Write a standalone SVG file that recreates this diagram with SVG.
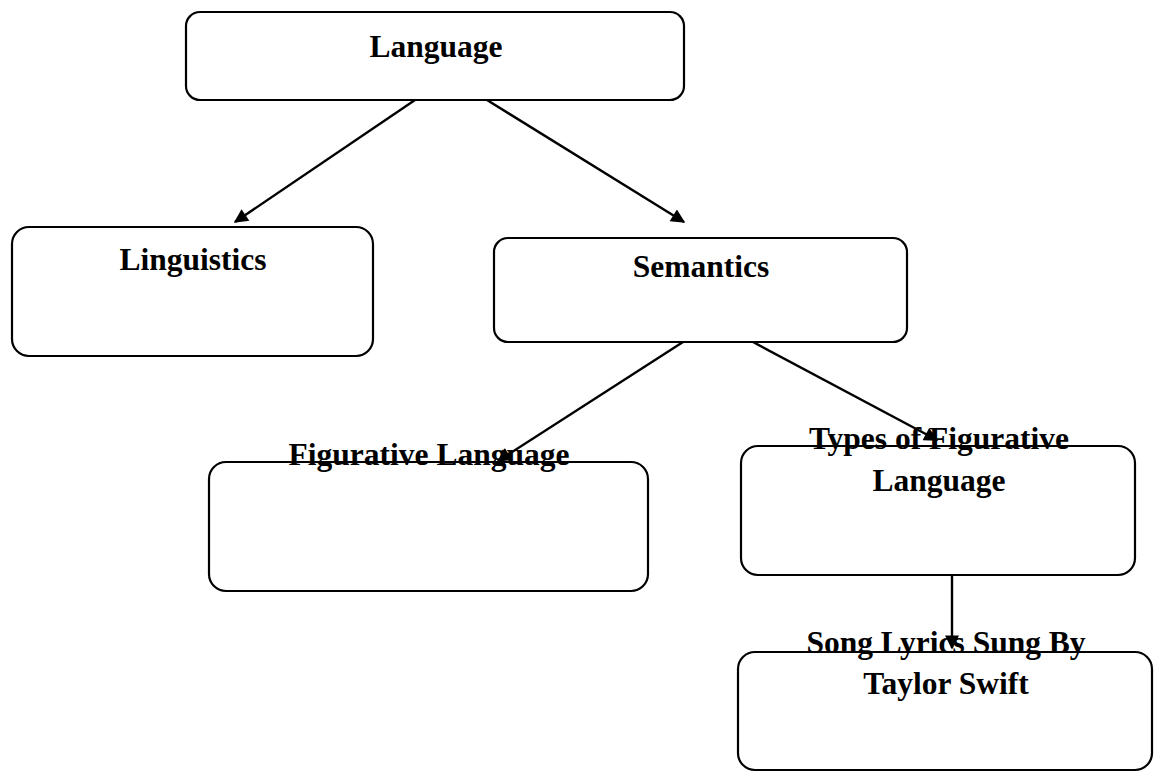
<svg xmlns="http://www.w3.org/2000/svg" width="1157" height="773" viewBox="0 0 1157 773">
<style>
.box{fill:#fff;stroke:#000;stroke-width:2.2}
.t{font-family:"Liberation Serif","Times New Roman",serif;font-weight:bold;font-size:31.5px;fill:#000;text-anchor:middle}
.c{stroke:#000;stroke-width:2.4;fill:none;marker-end:url(#ah)}
</style>
<defs>
<marker id="ah" viewBox="0 0 10 10" refX="9" refY="5" markerWidth="18" markerHeight="14" markerUnits="userSpaceOnUse" orient="auto">
<path d="M0,0 L10,5 L0,10 z" fill="#000"/>
</marker>
</defs>
<rect width="1157" height="773" fill="#fff"/>
<g id="n-language"><rect class="box" x="186" y="12" width="498" height="88" rx="14"/><text class="t" x="436" y="57">Language</text></g>
<g id="n-linguistics"><rect class="box" x="12" y="227" width="361" height="129" rx="17"/><text class="t" x="193" y="270">Linguistics</text></g>
<g id="n-semantics"><rect class="box" x="494" y="238" width="413" height="104" rx="14"/><text class="t" x="701" y="277">Semantics</text></g>
<g id="n-figurative"><rect class="box" x="209" y="462" width="439" height="129" rx="17"/></g>
<g id="n-types"><rect class="box" x="741" y="446" width="394" height="129" rx="17"/></g>
<g id="n-song"><rect class="box" x="738" y="652" width="414" height="118" rx="17"/></g>
<g id="connectors">
<line class="c" x1="415" y1="100" x2="235" y2="222"/>
<line class="c" x1="487" y1="100" x2="684" y2="222"/>
<line class="c" x1="683" y1="342" x2="498" y2="461"/>
<line class="c" x1="753" y1="342" x2="937" y2="440"/>
<line class="c" x1="952" y1="575" x2="952" y2="648"/>
</g>
<g id="labels">
<text class="t" x="429" y="465">Figurative Language</text>
<text class="t" x="939" y="449">Types of Figurative</text>
<text class="t" x="939" y="491">Language</text>
<text class="t" x="946" y="653">Song Lyrics Sung By</text>
<text class="t" x="946" y="694">Taylor Swift</text>
</g>
</svg>
